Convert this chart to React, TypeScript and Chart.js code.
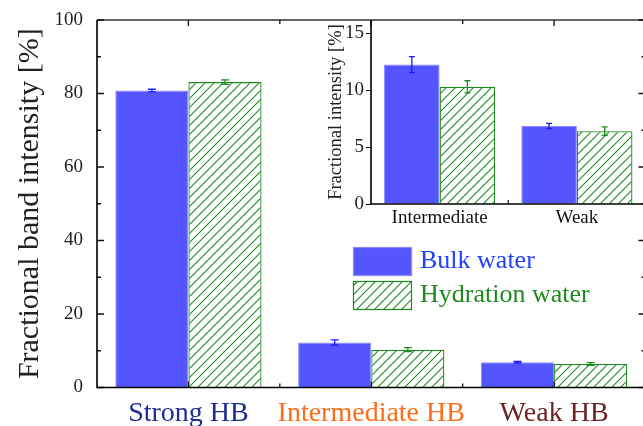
import { useEffect, useRef } from "react";
import { Chart, registerables } from "chart.js";

Chart.register(...registerables);

// ---------- data ----------
const categories = ["Strong HB", "Intermediate HB", "Weak HB"];
const categoryColors = ["#1f2d8c", "#ff6d18", "#6b2424"];
const bulkWater = [80.8, 12.25, 6.85];
const bulkWaterErr = [0.35, 0.7, 0.23];
const hydrationWater = [83.1, 10.3, 6.4];
const hydrationWaterErr = [0.6, 0.53, 0.37];
const mainMajorTicks = [0, 20, 40, 60, 80, 100];
const mainMinorTicks = [10, 30, 50, 70, 90];

const insetCategories = ["Intermediate", "Weak"];
const insetBulk = [12.25, 6.85];
const insetBulkErr = [0.7, 0.23];
const insetHydration = [10.3, 6.4];
const insetHydrationErr = [0.53, 0.37];
const insetTicks = [0, 5, 10, 15];
const insetMax = 16.17;

const seriesLabels = ["Bulk water", "Hydration water"];

// ---------- styles ----------
const SERIF = "'Liberation Serif', 'Times New Roman', serif";
const BLUE = "#5555ff";
const BLUE_EDGE = "#8a8aff";
const GREEN = "#1f8a1f";
const ERR_COLORS = ["#1a1aff", "#1f8a1f"];
const LEGEND_TEXT = ["#2040ff", "#1e8a1e"];

function makeHatch(color: string, size = 9): CanvasPattern {
  const c = document.createElement("canvas");
  c.width = size;
  c.height = size;
  const g = c.getContext("2d")!;
  g.fillStyle = "#ffffff";
  g.fillRect(0, 0, size, size);
  g.strokeStyle = color;
  g.lineWidth = 1.1;
  g.beginPath();
  g.moveTo(0, size);
  g.lineTo(size, 0);
  g.moveTo(-2, 2);
  g.lineTo(2, -2);
  g.moveTo(size - 2, size + 2);
  g.lineTo(size + 2, size - 2);
  g.stroke();
  return g.createPattern(c, "repeat")!;
}

function errorBars(errs: number[][], cap: number) {
  return {
    id: "errorBars",
    afterDatasetsDraw(chart: any) {
      const { ctx } = chart;
      const y = chart.scales.y;
      ctx.save();
      chart.data.datasets.forEach((ds: any, di: number) => {
        const meta = chart.getDatasetMeta(di);
        meta.data.forEach((bar: any, i: number) => {
          const v = ds.data[i] as number;
          const e = errs[di][i];
          const x = bar.x;
          const t = y.getPixelForValue(v + e);
          const b = y.getPixelForValue(v - e);
          ctx.strokeStyle = ERR_COLORS[di];
          ctx.lineWidth = 1.3;
          ctx.beginPath();
          ctx.moveTo(x, t);
          ctx.lineTo(x, b);
          ctx.moveTo(x - cap, t);
          ctx.lineTo(x + cap, t);
          ctx.moveTo(x - cap, b);
          ctx.lineTo(x + cap, b);
          ctx.stroke();
        });
      });
      ctx.restore();
    },
  };
}

const mainFrame = {
  id: "mainFrame",
  afterDatasetsDraw(chart: any) {
    const { ctx, chartArea: a } = chart;
    const x = chart.scales.x;
    const y = chart.scales.y;
    ctx.save();
    // top border
    ctx.strokeStyle = "#666";
    ctx.lineWidth = 2;
    ctx.beginPath();
    ctx.moveTo(a.left, a.top);
    ctx.lineTo(a.right + 5, a.top);
    ctx.stroke();
    ctx.strokeStyle = "#111";
    ctx.lineWidth = 1.3;
    ctx.beginPath();
    // y ticks inward, left & right
    mainMajorTicks.forEach((v) => {
      const p = y.getPixelForValue(v);
      ctx.moveTo(a.left, p);
      ctx.lineTo(a.left + 7, p);
      ctx.moveTo(a.right, p);
      ctx.lineTo(a.right - 7, p);
    });
    mainMinorTicks.forEach((v) => {
      const p = y.getPixelForValue(v);
      ctx.moveTo(a.left, p);
      ctx.lineTo(a.left + 4, p);
      ctx.moveTo(a.right, p);
      ctx.lineTo(a.right - 4, p);
    });
    // x ticks inward, bottom & top
    categories.forEach((_, i) => {
      const p = x.getPixelForValue(i);
      ctx.moveTo(p, a.bottom);
      ctx.lineTo(p, a.bottom - 6);
      ctx.moveTo(p, a.top);
      ctx.lineTo(p, a.top + 6);
      if (i < categories.length - 1) {
        const m = (p + x.getPixelForValue(i + 1)) / 2;
        ctx.moveTo(m, a.bottom);
        ctx.lineTo(m, a.bottom - 4);
        ctx.moveTo(m, a.top);
        ctx.lineTo(m, a.top + 4);
      }
    });
    ctx.stroke();
    // left & bottom axis lines
    ctx.strokeStyle = "#000";
    ctx.lineWidth = 1.6;
    ctx.beginPath();
    ctx.moveTo(a.left, a.top);
    ctx.lineTo(a.left, a.bottom);
    ctx.lineTo(a.right + 5, a.bottom);
    ctx.stroke();
    ctx.restore();
  },
};

function legendPlugin(hatch: CanvasPattern) {
  return {
    id: "customLegend",
    afterDraw(chart: any) {
      const { ctx } = chart;
      ctx.save();
      const boxes = [
        { y: 247, fill: BLUE, stroke: BLUE_EDGE },
        { y: 281, fill: hatch, stroke: GREEN },
      ];
      boxes.forEach((bx, i) => {
        const left = 353;
        const w = 59;
        const h = 29;
        ctx.fillStyle = bx.fill;
        ctx.fillRect(left, bx.y, w, h);
        ctx.strokeStyle = bx.stroke;
        ctx.lineWidth = 1.2;
        ctx.strokeRect(left + 0.5, bx.y + 0.5, w - 1, h - 1);
        ctx.fillStyle = LEGEND_TEXT[i];
        ctx.font = `26px ${SERIF}`;
        ctx.textAlign = "left";
        ctx.textBaseline = "middle";
        ctx.fillText(chart.data.datasets[i].label ?? seriesLabels[i], 420, bx.y + h / 2);
      });
      ctx.restore();
    },
  };
}

const insetFrame = {
  id: "insetFrame",
  afterDatasetsDraw(chart: any) {
    const { ctx, chartArea: a } = chart;
    const x = chart.scales.x;
    ctx.save();
    ctx.strokeStyle = "#111";
    ctx.lineWidth = 1.2;
    ctx.beginPath();
    for (let i = 0; i < insetCategories.length - 1; i++) {
      const m = (x.getPixelForValue(i) + x.getPixelForValue(i + 1)) / 2;
      ctx.moveTo(m, a.bottom);
      ctx.lineTo(m, a.bottom - 4);
    }
    ctx.stroke();
    ctx.strokeStyle = "#000";
    ctx.lineWidth = 1.6;
    ctx.beginPath();
    ctx.moveTo(a.left, a.top);
    ctx.lineTo(a.left, a.bottom);
    ctx.lineTo(a.right + 5, a.bottom);
    ctx.stroke();
    ctx.restore();
  },
};

export default function App() {
  const mainRef = useRef<HTMLCanvasElement>(null);
  const insetRef = useRef<HTMLCanvasElement>(null);

  useEffect(() => {
    const hatch = makeHatch(GREEN);
    const main = new Chart(mainRef.current!, {
      type: "bar",
      data: {
        labels: categories,
        datasets: [
          {
            label: seriesLabels[0],
            data: bulkWater,
            backgroundColor: BLUE,
            borderColor: BLUE_EDGE,
            borderWidth: 1,
          },
          {
            label: seriesLabels[1],
            data: hydrationWater,
            backgroundColor: hatch,
            borderColor: GREEN,
            borderWidth: 1.3,
          },
        ],
      },
      options: {
        responsive: false,
        animation: false,
        devicePixelRatio: 1,
        layout: { padding: { top: 20, right: 2.5, left: 0, bottom: 0 } },
        datasets: { bar: { categoryPercentage: 0.8, barPercentage: 1.0 } },
        plugins: { legend: { display: false }, tooltip: { enabled: false } },
        scales: {
          x: {
            type: "category",
            offset: true,
            grid: { display: false, drawTicks: false },
            border: { display: false },
            ticks: {
              padding: 9,
              font: { family: SERIF, size: 28 },
              color: (c: any) => categoryColors[c.index] ?? "#000",
              maxRotation: 0,
              autoSkip: false,
            },
            afterFit: (s: any) => {
              s.height = 38.5;
            },
          },
          y: {
            min: 0,
            max: 100,
            grid: { display: false, drawTicks: false },
            border: { display: false },
            afterBuildTicks: (s: any) => {
              s.ticks = mainMajorTicks.map((v) => ({ value: v }));
            },
            ticks: {
              padding: 14,
              font: { family: SERIF, size: 19 },
              color: "#222",
            },
            title: {
              display: true,
              text: "Fractional band intensity [%]",
              font: { family: SERIF, size: 30 },
              color: "#222",
              padding: { top: 12, bottom: 0 },
            },
            afterFit: (s: any) => {
              s.width = 97;
              s.paddingTop = 0;
              s.paddingBottom = 0;
            },
          },
        },
      },
      plugins: [mainFrame, errorBars([bulkWaterErr, hydrationWaterErr], 4), legendPlugin(hatch)],
    });

    const inset = new Chart(insetRef.current!, {
      type: "bar",
      data: {
        labels: insetCategories,
        datasets: [
          {
            label: seriesLabels[0],
            data: insetBulk,
            backgroundColor: BLUE,
            borderColor: BLUE_EDGE,
            borderWidth: 1,
          },
          {
            label: seriesLabels[1],
            data: insetHydration,
            backgroundColor: hatch,
            borderColor: GREEN,
            borderWidth: 1.3,
          },
        ],
      },
      options: {
        responsive: false,
        animation: false,
        devicePixelRatio: 1,
        layout: { padding: { top: 20, right: 2.5, left: 0, bottom: 0 } },
        datasets: { bar: { categoryPercentage: 0.81, barPercentage: 1.0 } },
        plugins: { legend: { display: false }, tooltip: { enabled: false } },
        scales: {
          x: {
            type: "category",
            offset: true,
            grid: { display: false, drawTicks: false },
            border: { display: false },
            ticks: {
              padding: 3,
              font: { family: SERIF, size: 19 },
              color: "#111",
              maxRotation: 0,
              autoSkip: false,
            },
            afterFit: (s: any) => {
              s.height = 31;
            },
          },
          y: {
            min: 0,
            max: insetMax,
            grid: {
              display: true,
              drawOnChartArea: false,
              drawTicks: true,
              tickLength: 5,
              color: "#111",
            },
            border: { display: false },
            afterBuildTicks: (s: any) => {
              s.ticks = insetTicks.map((v) => ({ value: v }));
            },
            ticks: {
              padding: 2,
              font: { family: SERIF, size: 19 },
              color: "#222",
            },
            title: {
              display: true,
              text: "Fractional intensity [%]",
              font: { family: SERIF, size: 18.5 },
              color: "#222",
              padding: { top: 25, bottom: 0 },
            },
            afterFit: (s: any) => {
              s.width = 71;
              s.paddingTop = 0;
              s.paddingBottom = 0;
            },
          },
        },
      },
      plugins: [insetFrame, errorBars([insetBulkErr, insetHydrationErr], 3)],
    });

    return () => {
      main.destroy();
      inset.destroy();
    };
  }, []);

  return (
    <div
      style={{
        position: "fixed",
        left: 0,
        top: 0,
        width: 643,
        height: 426,
        overflow: "hidden",
        background: "#ffffff",
      }}
    >
      <canvas
        ref={mainRef}
        width={648}
        height={426}
        style={{ position: "absolute", left: 0, top: 0, width: 648, height: 426, display: "block" }}
      />
      <canvas
        ref={insetRef}
        width={348}
        height={235}
        style={{ position: "absolute", left: 300, top: 0, width: 348, height: 235, display: "block" }}
      />
    </div>
  );
}
